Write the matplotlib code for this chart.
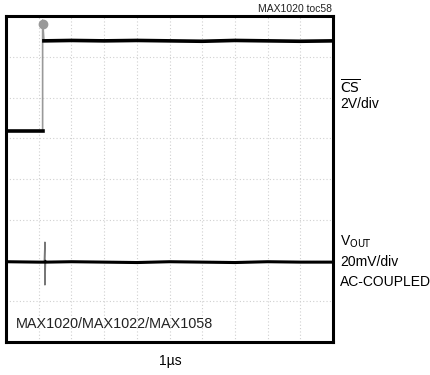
import matplotlib
matplotlib.use("Agg")
import matplotlib.pyplot as plt

# ---- data (in scope divisions: x 0..10, y 0..8 from bottom) ----
cs_t = [0.0, 1.12, 1.12, 1.16, 1.18, 2.0, 3.0, 4.0, 5.0, 6.0, 7.0, 8.0, 9.0, 10.0]
cs_v = [5.18, 5.18, 7.90, 7.39, 7.39, 7.40, 7.39, 7.40, 7.39, 7.38, 7.40, 7.39, 7.38, 7.39]
vout_t = [0.0, 1.0, 1.17, 1.19, 1.19, 1.21, 1.23, 2.0, 3.0, 4.0, 5.0, 6.0, 7.0, 8.0, 9.0, 10.0]
vout_v = [1.97, 1.96, 1.96, 2.45, 1.40, 1.97, 1.96, 1.97, 1.96, 1.95, 1.97, 1.96, 1.95, 1.97, 1.96, 1.96]
x_divs = 10
y_divs = 8

fam = ['Liberation Sans Narrow', 'Liberation Sans', 'DejaVu Sans']
plt.rcParams['font.family'] = fam

fig = plt.figure(figsize=(4.3, 3.75), dpi=100)
ax = fig.add_axes([6/430, 33/375, 327/430, 326/375])
ax.set_xlim(0, x_divs)
ax.set_ylim(0, y_divs)

for i in range(1, x_divs):
    ax.axvline(i, color='#d0d0d0', lw=0.8, ls=(0, (1, 2)), zorder=1)
for j in range(1, y_divs):
    ax.axhline(j, color='#d0d0d0', lw=0.8, ls=(0, (1, 2)), zorder=1)

# CS trace: vertical edge drawn thin/gray, flat parts thick black
ax.plot(cs_t[:2], cs_v[:2], color='black', lw=2.6, zorder=3)
ax.plot(cs_t[1:4], cs_v[1:4], color='#999999', lw=1.2, zorder=2)
ax.plot(cs_t[3:], cs_v[3:], color='black', lw=2.6, zorder=3)
ax.plot(cs_t[2], cs_v[2] - 0.1, 'o', color='#999999', ms=6, zorder=2)
# VOUT trace: glitch thin gray, flat parts thick black
ax.plot(vout_t[2:6], vout_v[2:6], color='#777777', lw=1.0, zorder=2)
ax.plot(vout_t[:3], vout_v[:3], color='black', lw=2.2, zorder=3)
ax.plot(vout_t[5:], vout_v[5:], color='black', lw=2.2, zorder=3)

ax.set_xticks([])
ax.set_yticks([])
for s in ax.spines.values():
    s.set_linewidth(2.2)
    s.set_color('black')

ax.text(0.03, 0.035, 'MAX1020/MAX1022/MAX1058', transform=ax.transAxes,
        fontsize=10.4, ha='left', va='bottom', color='#222222')

fs = 10
fig.text(332/430, 1 - 9/375, 'MAX1020 toc58', fontsize=7.5, ha='right', va='center', color='#222222')
fig.text(340/430, 1 - 87/375, r'$\overline{\mathrm{CS}}$', fontsize=fs, ha='left', va='center')
fig.text(340/430, 1 - 104/375, '2V/div', fontsize=fs, ha='left', va='center')
fig.text(340/430, 1 - 242/375, r'V$_{\mathrm{OUT}}$', fontsize=fs, ha='left', va='center')
fig.text(340/430, 1 - 262/375, '20mV/div', fontsize=fs, ha='left', va='center')
fig.text(340/430, 1 - 282/375, 'AC-COUPLED', fontsize=fs, ha='left', va='center')
fig.text(170/430, 1 - 361/375, '1µs', fontsize=fs, ha='center', va='center')

fig.savefig('out.png', dpi=100)
